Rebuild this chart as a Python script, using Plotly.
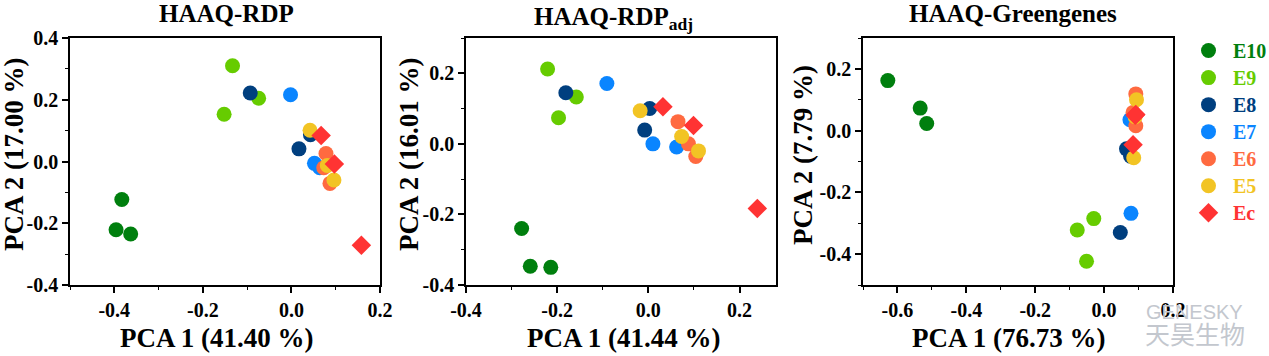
import plotly.graph_objects as go

# ---------------- data ----------------
groups = ["E10", "E9", "E8", "E7", "E6", "E5", "Ec"]
group_colors = ["#007f0e", "#66cc00", "#003f7f", "#0a85ff", "#ff6a40", "#f2c424", "#ff3333"]
group_symbols = ["circle", "circle", "circle", "circle", "circle", "circle", "diamond"]

sample_group = ["E10"] * 3 + ["E9"] * 3 + ["E8"] * 3 + ["E7"] * 3 + ["E6"] * 3 + ["E5"] * 3 + ["Ec"] * 3

# HAAQ-RDP
rdp_pc1 = [-0.383, -0.396, -0.363, -0.133, -0.074, -0.152, -0.093, 0.017, 0.043,
           -0.002, 0.052, 0.064, 0.078, 0.073, 0.087, 0.042, 0.081, 0.096,
           0.067, 0.097, 0.158]
rdp_pc2 = [-0.123, -0.221, -0.235, 0.310, 0.205, 0.153, 0.222, 0.041, 0.087,
           0.216, -0.006, -0.020, 0.026, -0.020, -0.071, 0.101, -0.013, -0.060,
           0.084, -0.008, -0.271]

# HAAQ-RDP adj
adj_pc1 = [-0.278, -0.259, -0.214, -0.221, -0.158, -0.197, -0.181, 0.003, -0.008,
           -0.091, 0.010, 0.062, 0.065, 0.088, 0.104, -0.018, 0.073, 0.110,
           0.032, 0.099, 0.239]
adj_pc2 = [-0.240, -0.347, -0.350, 0.212, 0.133, 0.074, 0.145, 0.100, 0.039,
           0.171, 0.000, -0.009, 0.063, 0.000, -0.036, 0.094, 0.021, -0.020,
           0.105, 0.052, -0.183]

# HAAQ-Greengenes
gg_pc1 = [-0.628, -0.534, -0.515, -0.030, -0.078, -0.051, 0.047, 0.065, 0.077,
          0.078, 0.075, 0.080, 0.092, 0.084, 0.092, 0.094, 0.086, 0.090,
          0.092, 0.084, 0.090]
gg_pc2 = [0.162, 0.073, 0.023, -0.285, -0.322, -0.423, -0.330, -0.059, -0.083,
          -0.268, 0.035, 0.040, 0.119, 0.059, 0.016, 0.100, -0.088, 0.045,
          0.052, -0.046, 0.050]

panel_titles = ["HAAQ-RDP", "HAAQ-RDP<sub>adj</sub>", "HAAQ-Greengenes"]
x_titles = ["PCA 1 (41.40 %)", "PCA 1 (41.44 %)", "PCA 1 (76.73 %)"]
y_titles = ["PCA 2 (17.00 %)", "PCA 2 (16.01 %)", "PCA 2 (7.79 %)"]

x_ranges = [[-0.5, 0.2], [-0.4, 0.28], [-0.7, 0.2]]
y_ranges = [[-0.4, 0.4], [-0.4, 0.3], [-0.5, 0.3]]

x_tickvals = [[-0.4, -0.2, 0.0, 0.2], [-0.4, -0.2, 0.0, 0.2], [-0.6, -0.4, -0.2, 0.0, 0.2]]
x_ticktext = [["-0.4", "-0.2", "0.0", "0.2"], ["-0.4", "-0.2", "0.0", "0.2"],
              ["-0.6", "-0.4", "-0.2", "0.0", "0.2"]]
y_tickvals = [[-0.4, -0.2, 0.0, 0.2, 0.4], [-0.4, -0.2, 0.0, 0.2], [-0.4, -0.2, 0.0, 0.2]]
y_ticktext = [["-0.4", "-0.2", "0.0", "0.2", "0.4"], ["-0.4", "-0.2", "0.0", "0.2"],
              ["-0.4", "-0.2", "0.0", "0.2"]]

# ---------------- layout geometry ----------------
W, H = 1269, 356
x_px = [(70, 380), (466, 776), (863, 1173)]
y_px = (38, 285)
ydom = [1 - y_px[1] / H, 1 - y_px[0] / H]

SERIF = "Liberation Serif"

fig = go.Figure()

panels = [(rdp_pc1, rdp_pc2), (adj_pc1, adj_pc2), (gg_pc1, gg_pc2)]

for p, (xs, ys) in enumerate(panels):
    xa = "x" if p == 0 else f"x{p+1}"
    ya = "y" if p == 0 else f"y{p+1}"
    for g, col, sym in zip(groups, group_colors, group_symbols):
        gx = [v for v, s in zip(xs, sample_group) if s == g]
        gy = [v for v, s in zip(ys, sample_group) if s == g]
        fig.add_trace(go.Scatter(
            x=gx, y=gy, mode="markers", xaxis=xa, yaxis=ya,
            name=f"<b><span style='font-size:20px'>{g}</span></b>",
            legendgroup=g, showlegend=(p == 0),
            marker=dict(color=col, symbol=sym, size=15, line=dict(width=0)),
        ))

axis_common = dict(
    showline=True, linecolor="black", linewidth=1.5, mirror=True,
    ticks="outside", ticklen=6, tickwidth=1.5, tickcolor="black",
    showgrid=False, zeroline=False, tickmode="array", automargin=False,
    tickfont=dict(family=SERIF, size=20, color="black"),
)

for p in range(3):
    xkey = "xaxis" if p == 0 else f"xaxis{p+1}"
    ykey = "yaxis" if p == 0 else f"yaxis{p+1}"
    xa_anchor = "y" if p == 0 else f"y{p+1}"
    ya_anchor = "x" if p == 0 else f"x{p+1}"
    fig.update_layout(**{
        xkey: dict(axis_common, domain=[x_px[p][0] / W, x_px[p][1] / W], range=x_ranges[p],
                   tickvals=x_tickvals[p], ticktext=[f"<b>{t}</b>" for t in x_ticktext[p]],
                   anchor=xa_anchor,
                   minor=dict(dtick=0.1, tick0=0, ticks="outside", ticklen=3.5,
                              tickwidth=1.2, tickcolor="black", showgrid=False)),
        ykey: dict(axis_common, domain=ydom, range=y_ranges[p],
                   tickvals=y_tickvals[p], ticktext=[f"<b>{t}</b>" for t in y_ticktext[p]],
                   anchor=ya_anchor,
                   minor=dict(dtick=0.1, tick0=0, ticks="outside", ticklen=3.5,
                              tickwidth=1.2, tickcolor="black", showgrid=False)),
    })

annotations = []
title_cx = [226, 613, 1013]
title_cy = [13, 18, 13]
xt_cx = [216, 623, 1008]
yt_cx = [14, 409, 803]
for p in range(3):
    annotations.append(dict(text=f"<b>{panel_titles[p]}</b>", xref="paper", yref="paper",
                            x=title_cx[p] / W, y=1 - title_cy[p] / H,
                            xanchor="center", yanchor="middle", showarrow=False,
                            font=dict(family=SERIF, size=25, color="black")))
    annotations.append(dict(text=f"<b>{x_titles[p]}</b>", xref="paper", yref="paper",
                            x=xt_cx[p] / W, y=1 - 338 / H, xanchor="center", yanchor="middle",
                            showarrow=False,
                            font=dict(family=SERIF, size=27, color="black")))
    annotations.append(dict(text=f"<b>{y_titles[p]}</b>", xref="paper", yref="paper",
                            x=yt_cx[p] / W, y=1 - 155 / H, xanchor="center", yanchor="middle",
                            textangle=-90, showarrow=False,
                            font=dict(family=SERIF, size=27, color="black")))

# watermark (drawn beneath the axes' tick labels visually similar to the reference)
annotations.insert(0, dict(text="GENESKY", xref="paper", yref="paper", x=1194 / W, y=1 - 312 / H,
                           xanchor="center", yanchor="middle", showarrow=False,
                           font=dict(family="Liberation Sans", size=20, color="#c3c7ce")))
annotations.insert(0, dict(text="天昊生物", xref="paper", yref="paper", x=1195 / W, y=1 - 333 / H,
                           xanchor="center", yanchor="middle", showarrow=False,
                           font=dict(family="Noto Sans CJK SC", size=25, color="#c3c7ce")))

fig.update_layout(
    width=W, height=H,
    font=dict(family=SERIF),
    margin=dict(l=0, r=0, t=0, b=0, autoexpand=False),
    paper_bgcolor="white", plot_bgcolor="white",
    annotations=annotations,
    showlegend=True,
    legend=dict(x=1184 / W, y=1 - 32 / H, xanchor="left", yanchor="top",
                bgcolor="rgba(0,0,0,0)", borderwidth=0,
                font=dict(family=SERIF, size=18.5),
                itemsizing="trace", tracegroupgap=0, itemwidth=39),
)

# colour each legend label like its series
legend_js = "var cols=%s;" % str(group_colors) + """
document.body.style.margin='0';
function colorLegend(){
  var items=document.querySelectorAll('.legend .traces .legendtext');
  items.forEach(function(t,i){ if(i<cols.length){ t.style.fill=cols[i]; } });
}
colorLegend();
var gd=document.getElementsByClassName('plotly-graph-div')[0];
gd.on('plotly_afterplot', colorLegend);
"""

fig.write_html("out.html", post_script=legend_js, config={"displayModeBar": False})
